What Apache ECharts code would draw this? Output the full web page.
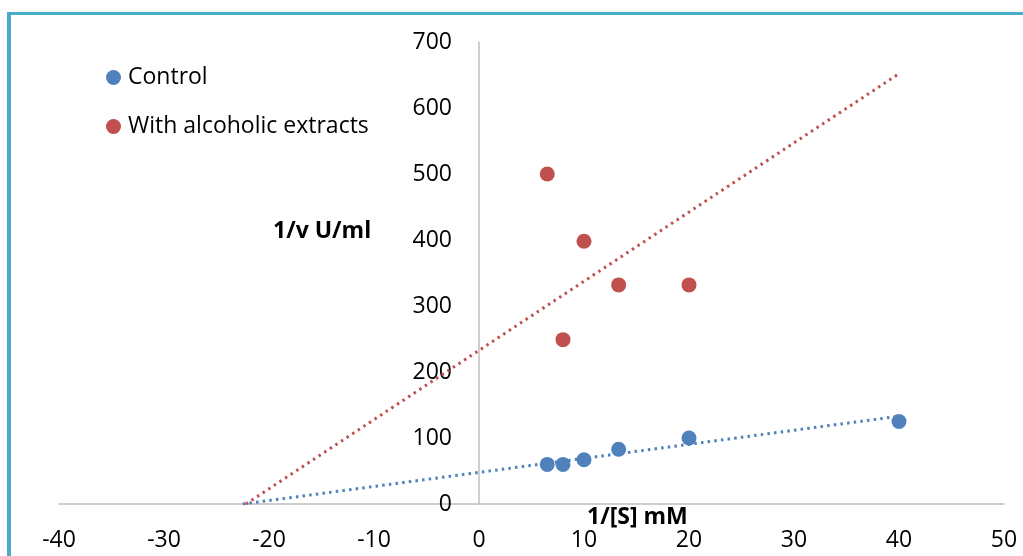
<!DOCTYPE html>
<html>
<head>
    <meta charset="UTF-8">
    <title>Lineweaver-Burk</title>
    <script src="https://cdn.jsdelivr.net/npm/echarts@6/dist/echarts.min.js"></script>
    <style>
        html, body { margin: 0; padding: 0; background: #fff; }
        #main { width: 1023px; height: 556px; }
    </style>
</head>
<body>
    <div id="main"></div>
    <script>
        // 数据
        var xControl = [6.5, 8, 10, 13.3, 20, 40];
        var yControl = [60, 60, 67, 83, 100, 125];
        var xExtract = [6.5, 8, 10, 13.3, 20];
        var yExtract = [500, 249, 398, 332, 332];
        // 趋势线端点
        var xTrendControl = [-22.5, 40];
        var yTrendControl = [0, 133];
        var xTrendExtract = [-22.2, 40];
        var yTrendExtract = [0, 652];
        var xTicks = [-40, 50, 10];
        var yTicks = [0, 700, 100];

        function pairs(xs, ys) {
            return xs.map(function (x, i) { return [x, ys[i]]; });
        }

        var blue = '#4f81bd';
        var red = '#c0504d';
        var font = '"Open Sans", sans-serif';

        var gridLeft = 59, gridRight = 19;
        var gridW = 1023 - gridLeft - gridRight;
        // y轴放在 x=0 处
        var yOffset = -gridW * (0 - xTicks[0]) / (xTicks[1] - xTicks[0]);

        var myChart = echarts.init(document.getElementById('main'));
        var option = {
            animation: false,
            grid: { left: gridLeft, right: gridRight, top: 42, bottom: 52, containLabel: false, outerBoundsMode: 'none' },
            legend: {
                orient: 'vertical',
                left: 101,
                top: 61,
                itemGap: 26,
                itemWidth: 15,
                itemHeight: 15,
                icon: 'circle',
                data: ['Control', 'With alcoholic extracts'],
                textStyle: { fontSize: 23, color: '#000', fontFamily: font, padding: [0, 0, 0, 2] }
            },
            xAxis: {
                type: 'value',
                min: xTicks[0], max: xTicks[1], interval: xTicks[2],
                splitLine: { show: false },
                axisTick: { show: false },
                axisLine: { lineStyle: { color: '#bfbfbf', width: 1.5 } },
                axisLabel: { fontSize: 23, color: '#000', fontFamily: font, margin: 25 }
            },
            yAxis: {
                type: 'value',
                offset: yOffset,
                min: yTicks[0], max: yTicks[1], interval: yTicks[2],
                splitLine: { show: false },
                axisTick: { show: false },
                axisLine: { show: true, onZero: false, lineStyle: { color: '#bfbfbf', width: 1.5 } },
                axisLabel: { fontSize: 23, color: '#000', fontFamily: font, margin: 27 }
            },
            graphic: [
                { type: 'rect', shape: { x: 7, y: 12, width: 1016, height: 3 }, style: { fill: '#4bacc6' } },
                { type: 'rect', shape: { x: 7, y: 12, width: 4, height: 544 }, style: { fill: '#4bacc6' } },
                { type: 'text', left: 273, top: 220, style: { text: '1/v U/ml', font: 'bold 23px ' + font, fill: '#000' } },
                { type: 'text', left: 587, top: 506, z: 10, style: { text: '1/[S] mM', font: 'bold 23px ' + font, fill: '#000' } }
            ],
            series: [
                {
                    name: 'trendControl', type: 'line', symbol: 'none', silent: true,
                    data: pairs(xTrendControl, yTrendControl),
                    lineStyle: { color: blue, width: 3, type: [2.5, 4.2] }
                },
                {
                    name: 'trendExtract', type: 'line', symbol: 'none', silent: true,
                    data: pairs(xTrendExtract, yTrendExtract),
                    lineStyle: { color: red, width: 3, type: [2.5, 4.2] }
                },
                {
                    name: 'Control', type: 'scatter', symbolSize: 15,
                    itemStyle: { color: blue, opacity: 1 },
                    data: pairs(xControl, yControl)
                },
                {
                    name: 'With alcoholic extracts', type: 'scatter', symbolSize: 15,
                    itemStyle: { color: red, opacity: 1 },
                    data: pairs(xExtract, yExtract)
                }
            ]
        };
        myChart.setOption(option);
    </script>
</body>
</html>
